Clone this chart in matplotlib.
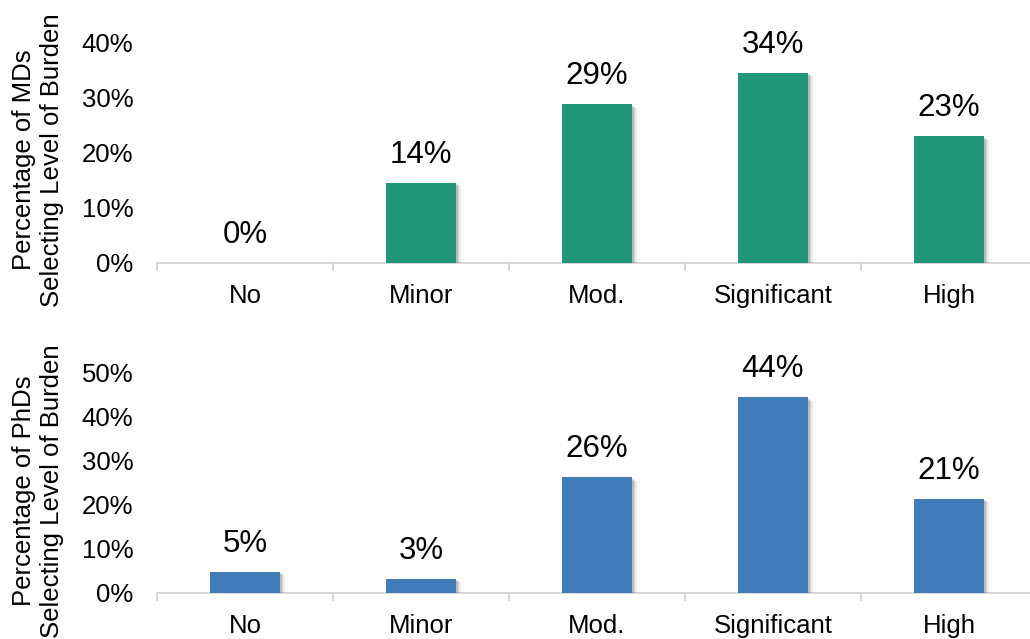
import matplotlib
matplotlib.use("Agg")
import matplotlib.pyplot as plt
import matplotlib.patheffects as pe
from matplotlib.ticker import FixedLocator, PercentFormatter

plt.rcParams['font.family'] = ['Liberation Sans', 'DejaVu Sans']

categories = ["No", "Minor", "Mod.", "Significant", "High"]
md_values = [0.0, 0.145, 0.288, 0.345, 0.230]
md_labels = ["0%", "14%", "29%", "34%", "23%"]
phd_values = [0.0475, 0.032, 0.262, 0.443, 0.213]
phd_labels = ["5%", "3%", "26%", "44%", "21%"]
md_ticks = [0, 0.1, 0.2, 0.3, 0.4]
phd_ticks = [0, 0.1, 0.2, 0.3, 0.4, 0.5]

W, H = 1030, 639
fig = plt.figure(figsize=(W / 100, H / 100), dpi=100)

def px_axes(left, right, y0, top):
    return fig.add_axes([left / W, (H - y0) / H, (right - left) / W, (y0 - top) / H])

ax1 = px_axes(157, 1037, 263, 15)
ax2 = px_axes(157, 1037, 593, 350)

green = "#21977A"
blue = "#417BBA"

def draw(ax, vals, labels, ticks, color, ymax, ylabel, label_y):
    x = list(range(len(categories)))
    bars = ax.bar(x, vals, width=0.4, color=color, zorder=3)
    for b in bars:
        b.set_path_effects([
            pe.SimplePatchShadow(offset=(3.2, -2.4), shadow_rgbFace='#909090', alpha=0.18),
            pe.SimplePatchShadow(offset=(2.2, -1.7), shadow_rgbFace='#808080', alpha=0.22),
            pe.SimplePatchShadow(offset=(1.2, -1.0), shadow_rgbFace='#707070', alpha=0.25),
            pe.Normal()])
    for xi, v, t in zip(x, vals, labels):
        ax.annotate(t, (xi, v), xytext=(0, 14.5), textcoords='offset points',
                    ha='center', va='baseline', fontsize=22.5, color='black', zorder=4)
    ax.set_xlim(-0.5, len(categories) - 0.5)
    ax.set_ylim(0, ymax)
    ax.set_xticks(x)
    ax.set_xticklabels(categories, fontsize=18.5)
    ax.xaxis.set_minor_locator(FixedLocator([i - 0.5 for i in range(len(categories) + 1)]))
    ax.tick_params(axis='x', which='major', length=0, pad=15)
    ax.tick_params(axis='x', which='minor', length=6, color='#D0D0D0', width=1.2)
    ax.set_yticks(ticks)
    ax.yaxis.set_major_formatter(PercentFormatter(1.0, decimals=0))
    ax.tick_params(axis='y', length=0, pad=17, labelsize=18.5)
    for s in ['top', 'right', 'left']:
        ax.spines[s].set_visible(False)
    ax.spines['bottom'].set_color('#D0D0D0')
    ax.spines['bottom'].set_linewidth(1.2)
    ax.set_ylabel(ylabel, fontsize=18.5, linespacing=1.2)
    ax.yaxis.set_label_coords(-0.106, label_y)

draw(ax1, md_values, md_labels, md_ticks, green, 0.45,
     "Percentage of MDs\nSelecting Level of Burden", 0.415)
draw(ax2, phd_values, phd_labels, phd_ticks, blue, 0.55,
     "Percentage of PhDs\nSelecting Level of Burden", 0.42)

fig.savefig("out.png", dpi=100)
